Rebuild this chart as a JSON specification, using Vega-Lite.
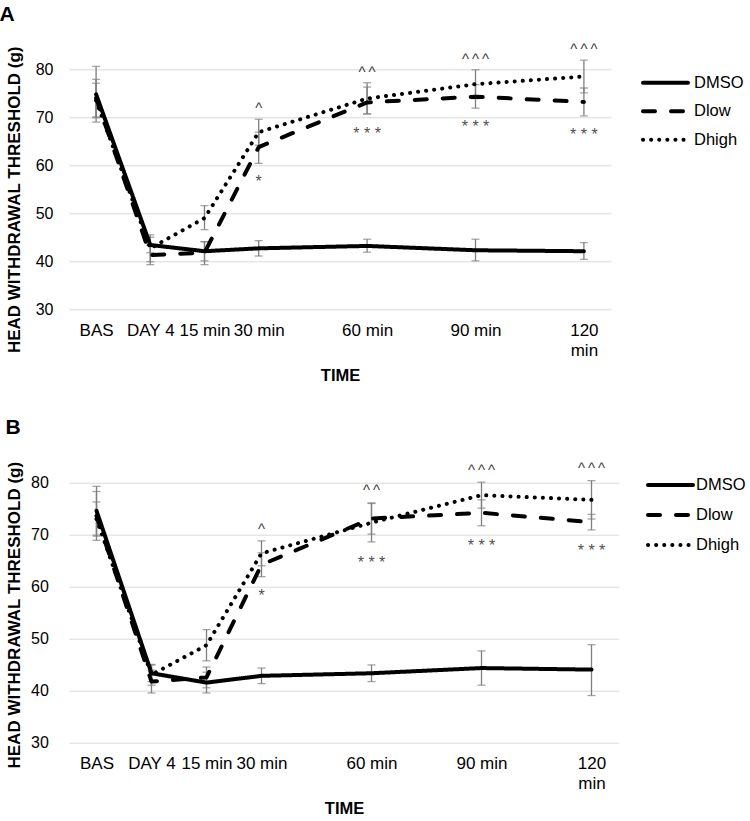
{
  "$schema": "https://vega.github.io/schema/vega-lite/v6.json",
  "autosize": {"type": "none"},
  "padding": {"left": 69, "top": 69.3, "right": 681, "bottom": 751.7},
  "background": "white",
  "bounds": "flush",
  "spacing": 173.4,
  "config": {
    "view": {"stroke": null},
    "font": "Liberation Sans",
    "axisX": {"labelFontSize": 17, "labelColor": "black", "labelPadding": 13, "ticks": false, "tickSize": 0, "domain": false, "grid": false, "labelFlush": false, "labelOverlap": false, "labelLineHeight": 20, "titleFontSize": 16.5, "titleFontWeight": "bold", "titleColor": "black", "titlePadding": 9},
    "axisY": {"labelFontSize": 16, "labelColor": "black", "grid": true, "gridColor": "#d9d9d9", "gridWidth": 1, "domain": false, "ticks": false, "tickSize": 0, "titleFontSize": 17, "titleFontWeight": "bold", "titleColor": "black"},
    "title": {"anchor": "start", "frame": "bounds", "fontSize": 21, "fontWeight": "bold", "color": "black", "baseline": "alphabetic"}
  },
  "resolve": {"scale": {"strokeDash": "independent", "color": "independent"}, "legend": {"strokeDash": "independent", "color": "independent"}},
  "datasets": {
    "ptsA": [
      {"group": "DMSO", "xi": 0, "mean": 74.8, "lo": 69.0, "hi": 80.6},
      {"group": "DMSO", "xi": 1, "mean": 43.4, "lo": 41.8, "hi": 45.0},
      {"group": "DMSO", "xi": 2, "mean": 42.1, "lo": 40.1, "hi": 44.1},
      {"group": "DMSO", "xi": 3, "mean": 42.7, "lo": 41.1, "hi": 44.3},
      {"group": "DMSO", "xi": 5, "mean": 43.2, "lo": 41.9, "hi": 44.6},
      {"group": "DMSO", "xi": 7, "mean": 42.3, "lo": 40.1, "hi": 44.6},
      {"group": "DMSO", "xi": 9, "mean": 42.1, "lo": 40.4, "hi": 43.9},
      {"group": "Dlow", "xi": 0, "mean": 74.0, "lo": 70.1, "hi": 77.9},
      {"group": "Dlow", "xi": 1, "mean": 41.3, "lo": 39.3, "hi": 43.3},
      {"group": "Dlow", "xi": 2, "mean": 41.8, "lo": 39.3, "hi": 44.1},
      {"group": "Dlow", "xi": 3, "mean": 63.8, "lo": 60.4, "hi": 66.9},
      {"group": "Dlow", "xi": 5, "mean": 73.1, "lo": 70.7, "hi": 76.3},
      {"group": "Dlow", "xi": 7, "mean": 74.3, "lo": 71.9, "hi": 76.8},
      {"group": "Dlow", "xi": 9, "mean": 73.2, "lo": 70.3, "hi": 76.1},
      {"group": "Dhigh", "xi": 0, "mean": 73.5, "lo": 69.9, "hi": 77.1},
      {"group": "Dhigh", "xi": 1, "mean": 42.7, "lo": 39.9, "hi": 45.5},
      {"group": "Dhigh", "xi": 2, "mean": 49.0, "lo": 46.6, "hi": 51.6},
      {"group": "Dhigh", "xi": 3, "mean": 66.9, "lo": 64.2, "hi": 69.6},
      {"group": "Dhigh", "xi": 5, "mean": 73.9, "lo": 70.7, "hi": 77.2},
      {"group": "Dhigh", "xi": 7, "mean": 76.9, "lo": 73.9, "hi": 79.9},
      {"group": "Dhigh", "xi": 9, "mean": 78.5, "lo": 75.1, "hi": 81.9}
    ],
    "ptsB": [
      {"group": "DMSO", "xi": 0, "mean": 74.6, "lo": 69.9, "hi": 79.3},
      {"group": "DMSO", "xi": 1, "mean": 43.3, "lo": 41.7, "hi": 44.9},
      {"group": "DMSO", "xi": 2, "mean": 41.5, "lo": 39.5, "hi": 43.5},
      {"group": "DMSO", "xi": 3, "mean": 42.8, "lo": 41.3, "hi": 44.3},
      {"group": "DMSO", "xi": 5, "mean": 43.3, "lo": 41.7, "hi": 44.9},
      {"group": "DMSO", "xi": 7, "mean": 44.3, "lo": 41.0, "hi": 47.6},
      {"group": "DMSO", "xi": 9, "mean": 44.0, "lo": 39.0, "hi": 48.8},
      {"group": "Dlow", "xi": 0, "mean": 73.6, "lo": 68.9, "hi": 78.3},
      {"group": "Dlow", "xi": 1, "mean": 41.7, "lo": 39.5, "hi": 43.9},
      {"group": "Dlow", "xi": 2, "mean": 42.5, "lo": 40.5, "hi": 44.5},
      {"group": "Dlow", "xi": 3, "mean": 64.2, "lo": 61.9, "hi": 66.5},
      {"group": "Dlow", "xi": 5, "mean": 73.1, "lo": 70.1, "hi": 76.1},
      {"group": "Dlow", "xi": 7, "mean": 74.2, "lo": 71.7, "hi": 76.7},
      {"group": "Dlow", "xi": 9, "mean": 72.4, "lo": 70.9, "hi": 73.9},
      {"group": "Dhigh", "xi": 0, "mean": 73.0, "lo": 69.7, "hi": 76.3},
      {"group": "Dhigh", "xi": 1, "mean": 43.0, "lo": 41.0, "hi": 45.0},
      {"group": "Dhigh", "xi": 2, "mean": 48.7, "lo": 45.7, "hi": 51.7},
      {"group": "Dhigh", "xi": 3, "mean": 66.4, "lo": 64.0, "hi": 68.8},
      {"group": "Dhigh", "xi": 5, "mean": 72.3, "lo": 68.6, "hi": 76.0},
      {"group": "Dhigh", "xi": 7, "mean": 77.6, "lo": 75.1, "hi": 80.1},
      {"group": "Dhigh", "xi": 9, "mean": 76.7, "lo": 73.0, "hi": 80.4}
    ],
    "annA": [
      {"xi": 3, "y": 70.9, "label": "^", "kind": "caret"},
      {"xi": 3, "y": 55.5, "label": "*", "kind": "star"},
      {"xi": 5, "y": 78.3, "label": "^\u2009^", "kind": "caret"},
      {"xi": 5, "y": 65.5, "label": "* * *", "kind": "star"},
      {"xi": 7, "y": 81.2, "label": "^\u2009^\u2009^", "kind": "caret"},
      {"xi": 7, "y": 66.9, "label": "* * *", "kind": "star"},
      {"xi": 9, "y": 83.25, "label": "^\u2009^\u2009^", "kind": "caret"},
      {"xi": 9, "y": 65.3, "label": "* * *", "kind": "star"}
    ],
    "annB": [
      {"xi": 3, "y": 70.1, "label": "^", "kind": "caret"},
      {"xi": 3, "y": 57.2, "label": "*", "kind": "star"},
      {"xi": 5, "y": 77.6, "label": "^\u2009^", "kind": "caret"},
      {"xi": 5, "y": 63.6, "label": "* * *", "kind": "star"},
      {"xi": 7, "y": 81.5, "label": "^\u2009^\u2009^", "kind": "caret"},
      {"xi": 7, "y": 66.9, "label": "* * *", "kind": "star"},
      {"xi": 9, "y": 81.9, "label": "^\u2009^\u2009^", "kind": "caret"},
      {"xi": 9, "y": 65.8, "label": "* * *", "kind": "star"}
    ]
  },
  "vconcat": [
    {
      "width": 542,
      "height": 240,
      "title": {"text": "A", "offset": 17, "dx": -6},
      "encoding": {
        "x": {"field": "xi", "type": "quantitative", "title": "TIME",
          "scale": {"domain": [-0.5, 9.5], "nice": false, "zero": false},
          "axis": {"values": [0, 1, 2, 3, 5, 7, 9],
            "labelExpr": "datum.value == 0 ? 'BAS' : datum.value == 1 ? 'DAY 4' : datum.value == 2 ? '15 min' : datum.value == 3 ? '30 min' : datum.value == 5 ? '60 min' : datum.value == 7 ? '90 min' : ['120', 'min']",
            "encode": {"labels": {"update": {"dx": {"signal": "datum.value == 1 ? -6 : datum.value == 2 ? -7 : datum.value == 3 ? -1.5 : 0"}}}}}
        }
      },
      "layer": [
        {
          "data": {"name": "ptsA"},
          "mark": {"type": "rule", "color": "#7f7f7f", "strokeWidth": 1.3},
          "encoding": {
            "y": {"field": "lo", "type": "quantitative", "title": "HEAD WITHDRAWAL THRESHOLD (g)", "scale": {"domain": [30, 80], "nice": false, "zero": false},
              "axis": {"values": [30, 40, 50, 60, 70, 80], "labelPadding": 16, "titlePadding": 11.7, "titleY": 130}},
            "y2": {"field": "hi"}
          }
        },
        {
          "data": {"name": "ptsA"},
          "mark": {"type": "tick", "orient": "horizontal", "color": "#7f7f7f", "size": 8, "thickness": 1.3},
          "encoding": {"y": {"field": "lo", "type": "quantitative", "title": "HEAD WITHDRAWAL THRESHOLD (g)", "scale": {"domain": [30, 80], "nice": false, "zero": false}}}
        },
        {
          "data": {"name": "ptsA"},
          "mark": {"type": "tick", "orient": "horizontal", "color": "#7f7f7f", "size": 8, "thickness": 1.3},
          "encoding": {"y": {"field": "hi", "type": "quantitative", "title": "HEAD WITHDRAWAL THRESHOLD (g)", "scale": {"domain": [30, 80], "nice": false, "zero": false}}}
        },
        {
          "data": {"name": "ptsA"},
          "mark": {"type": "line", "color": "black", "strokeWidth": 4, "strokeCap": "round", "strokeJoin": "round"},
          "encoding": {
            "y": {"field": "mean", "type": "quantitative", "title": "HEAD WITHDRAWAL THRESHOLD (g)", "scale": {"domain": [30, 80], "nice": false, "zero": false}},
            "strokeDash": {"field": "group", "type": "nominal",
              "scale": {"domain": ["DMSO", "Dlow", "Dhigh"], "range": [[1, 0], [12, 16], [0.1, 8]]},
              "legend": {"title": null, "orient": "none", "legendX": 587, "legendY": 3.9, "symbolType": "M-3,0H3", "symbolSize": 225, "symbolStrokeWidth": 4, "symbolStrokeColor": "black", "labelFontSize": 16.5, "labelColor": "black", "labelOffset": 19, "rowPadding": 10.5, "padding": 0,
                "encode": {"symbols": {"update": {"strokeCap": {"value": "round"}}}}}
            }
          }
        },
        {
          "data": {"name": "annA"},
          "mark": {"type": "text", "baseline": "alphabetic", "align": "center"},
          "encoding": {
            "y": {"field": "y", "type": "quantitative", "title": "HEAD WITHDRAWAL THRESHOLD (g)", "scale": {"domain": [30, 80], "nice": false, "zero": false}},
            "text": {"field": "label"},
            "color": {"field": "kind", "type": "nominal", "scale": {"domain": ["caret", "star"], "range": ["#404040", "#505050"]}, "legend": null},
            "size": {"field": "kind", "type": "nominal", "scale": {"domain": ["caret", "star"], "range": [15, 16]}, "legend": null}
          }
        }
      ]
    },
    {
      "width": 550,
      "height": 259.6,
      "title": {"text": "B", "offset": 23, "dx": 0},
      "encoding": {
        "x": {"field": "xi", "type": "quantitative", "title": "TIME",
          "scale": {"domain": [-0.5, 9.5], "nice": false, "zero": false},
          "axis": {"values": [0, 1, 2, 3, 5, 7, 9],
            "labelExpr": "datum.value == 0 ? 'BAS' : datum.value == 1 ? 'DAY 4' : datum.value == 2 ? '15 min' : datum.value == 3 ? '30 min' : datum.value == 5 ? '60 min' : datum.value == 7 ? '90 min' : ['120', 'min']",
            "encode": {"labels": {"update": {"dx": {"signal": "datum.value == 1 ? -6 : datum.value == 2 ? -7 : datum.value == 3 ? -1.5 : 0"}}}}}
        }
      },
      "layer": [
        {
          "data": {"name": "ptsB"},
          "mark": {"type": "rule", "color": "#7f7f7f", "strokeWidth": 1.3},
          "encoding": {
            "y": {"field": "lo", "type": "quantitative", "title": "HEAD WITHDRAWAL THRESHOLD (g)", "scale": {"domain": [30, 80], "nice": false, "zero": false},
              "axis": {"values": [30, 40, 50, 60, 70, 80], "labelPadding": 20.7, "titlePadding": 7, "titleY": 132}},
            "y2": {"field": "hi"}
          }
        },
        {
          "data": {"name": "ptsB"},
          "mark": {"type": "tick", "orient": "horizontal", "color": "#7f7f7f", "size": 8, "thickness": 1.3},
          "encoding": {"y": {"field": "lo", "type": "quantitative", "title": "HEAD WITHDRAWAL THRESHOLD (g)", "scale": {"domain": [30, 80], "nice": false, "zero": false}}}
        },
        {
          "data": {"name": "ptsB"},
          "mark": {"type": "tick", "orient": "horizontal", "color": "#7f7f7f", "size": 8, "thickness": 1.3},
          "encoding": {"y": {"field": "hi", "type": "quantitative", "title": "HEAD WITHDRAWAL THRESHOLD (g)", "scale": {"domain": [30, 80], "nice": false, "zero": false}}}
        },
        {
          "data": {"name": "ptsB"},
          "mark": {"type": "line", "color": "black", "strokeWidth": 4, "strokeCap": "round", "strokeJoin": "round"},
          "encoding": {
            "y": {"field": "mean", "type": "quantitative", "title": "HEAD WITHDRAWAL THRESHOLD (g)", "scale": {"domain": [30, 80], "nice": false, "zero": false}},
            "strokeDash": {"field": "group", "type": "nominal",
              "scale": {"domain": ["DMSO", "Dlow", "Dhigh"], "range": [[1, 0], [12, 16], [0.1, 8]]},
              "legend": {"title": null, "orient": "none", "legendX": 592, "legendY": -7.2, "symbolType": "M-3,0H3", "symbolSize": 225, "symbolStrokeWidth": 4, "symbolStrokeColor": "black", "labelFontSize": 16.5, "labelColor": "black", "labelOffset": 16, "rowPadding": 12, "padding": 0,
                "encode": {"symbols": {"update": {"strokeCap": {"value": "round"}}}}}
            }
          }
        },
        {
          "data": {"name": "annB"},
          "mark": {"type": "text", "baseline": "alphabetic", "align": "center"},
          "encoding": {
            "y": {"field": "y", "type": "quantitative", "title": "HEAD WITHDRAWAL THRESHOLD (g)", "scale": {"domain": [30, 80], "nice": false, "zero": false}},
            "text": {"field": "label"},
            "color": {"field": "kind", "type": "nominal", "scale": {"domain": ["caret", "star"], "range": ["#404040", "#505050"]}, "legend": null},
            "size": {"field": "kind", "type": "nominal", "scale": {"domain": ["caret", "star"], "range": [15, 16]}, "legend": null}
          }
        }
      ]
    }
  ]
}
